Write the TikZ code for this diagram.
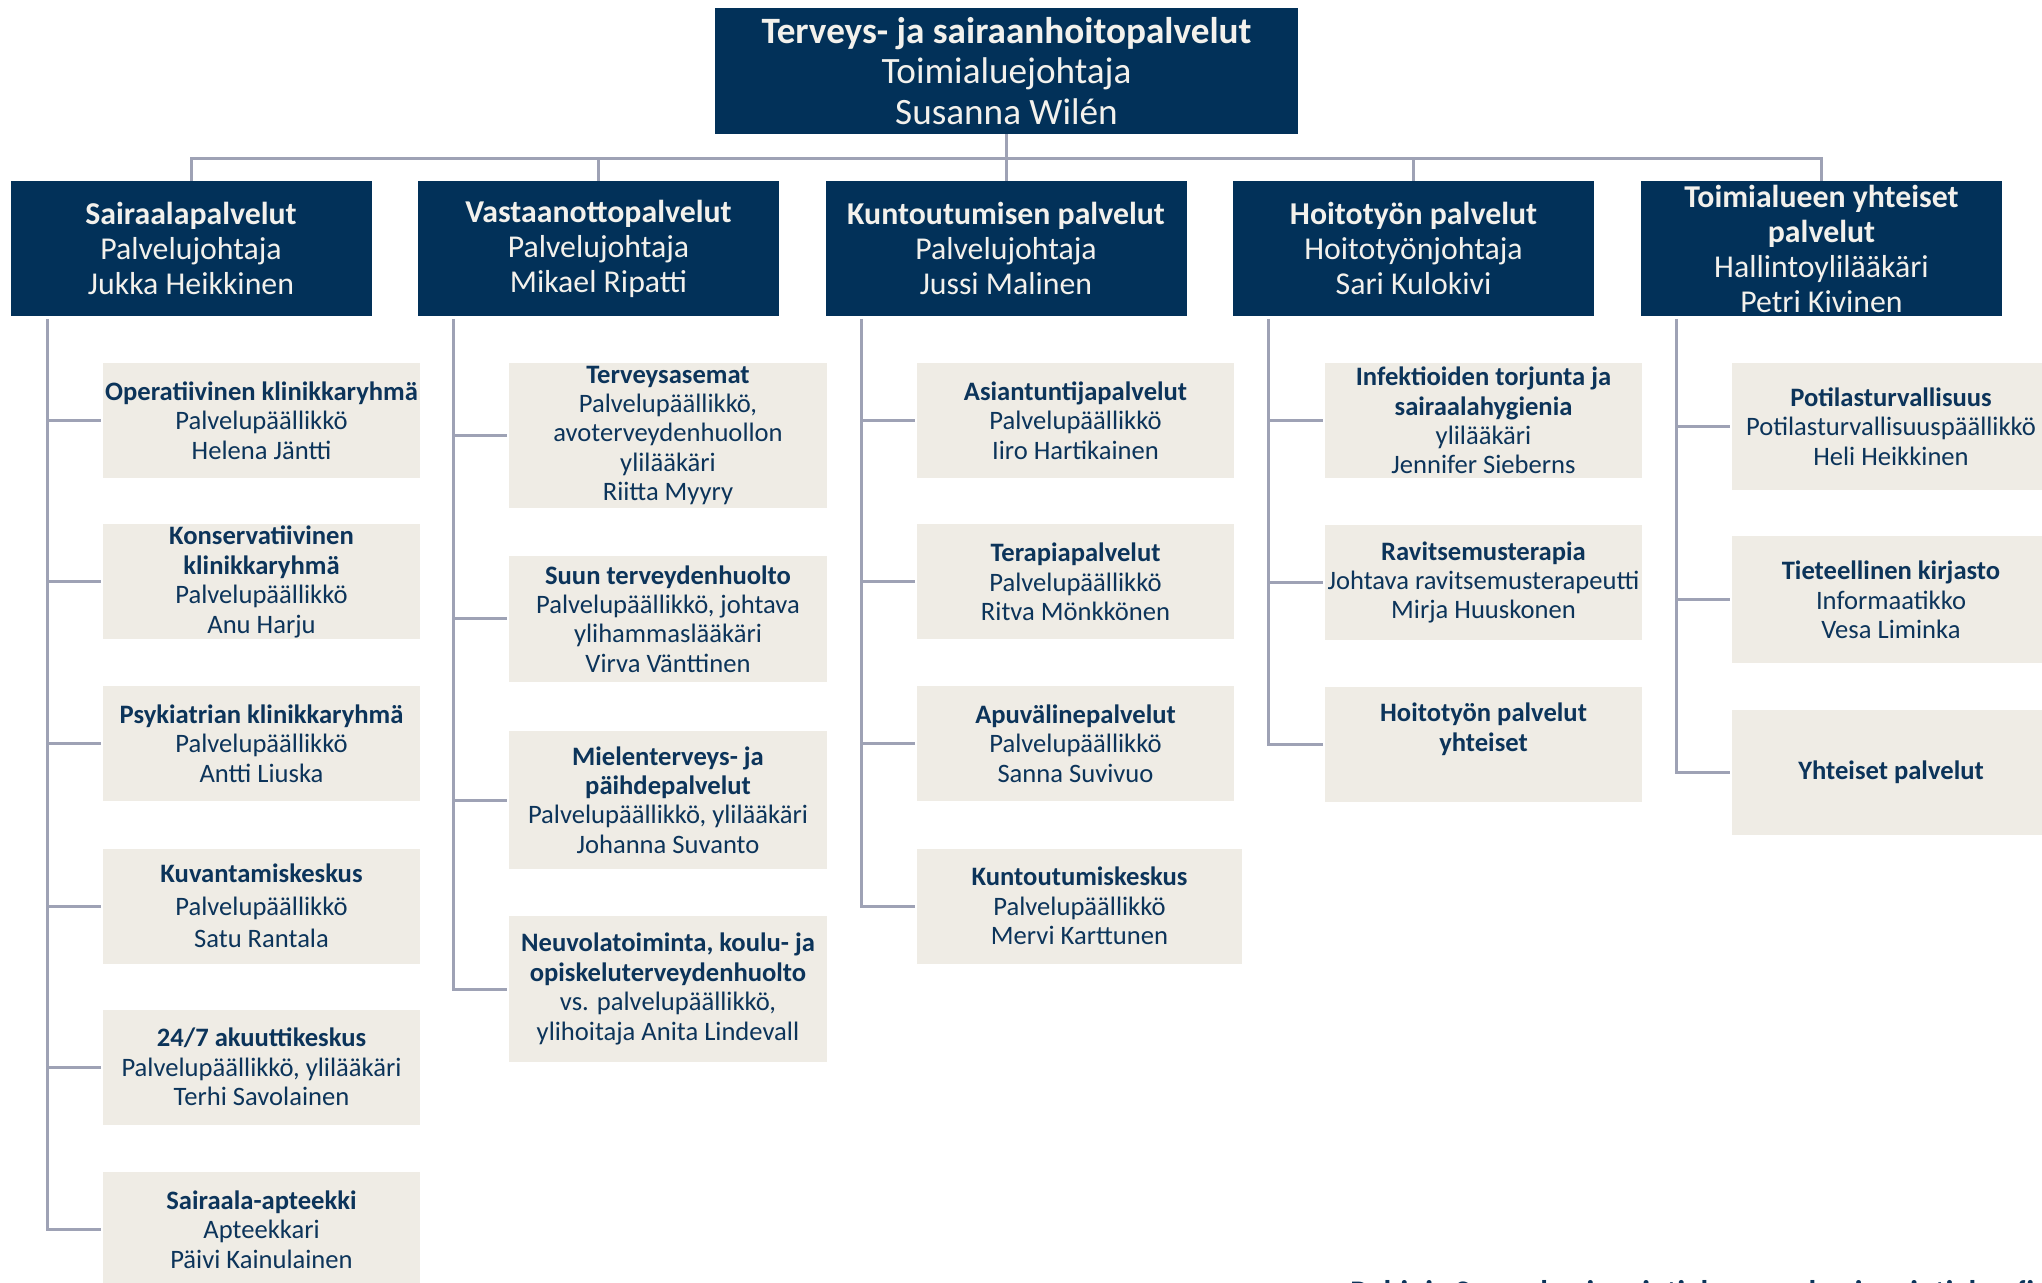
\documentclass[tikz,border=0pt]{standalone}
\usepackage{fontspec}
\setmainfont{Carlito}
\definecolor{navy}{RGB}{2,49,89}
\definecolor{navytext}{RGB}{12,52,90}
\definecolor{cream}{RGB}{243,241,236}
\definecolor{beige}{RGB}{239,236,229}
\definecolor{linec}{RGB}{158,162,181}
\begin{document}
\begin{tikzpicture}[x=0.5pt,y=-0.5pt,
  topbox/.style={fill=navy,text=cream,align=center,inner sep=0pt,
    font=\fontsize{18.6}{20.2}\selectfont,minimum width=291.5pt,minimum height=63pt},
  lvtwo/.style={fill=navy,text=cream,align=center,inner sep=0pt,
    font=\fontsize{15.9}{17.5}\selectfont,minimum width=180.5pt,minimum height=67.5pt},
  lvthree/.style={fill=beige,text=navytext,align=center,inner sep=0pt,
    font=\fontsize{13.3}{14.7}\selectfont,minimum width=158.5pt},
  conn/.style={draw=linec,line width=1.5pt},
  stub/.style={conn,shorten >=1pt}]
\useasboundingbox (0,0) rectangle (2042,1283);

% top
\node[topbox] (top) at (1006.5,71) {\textbf{Terveys- ja sairaanhoitopalvelut}\\Toimialuejohtaja\\Susanna Wilén};

% level 2
\node[lvtwo] (s1) at (191,248.5) {\textbf{Sairaalapalvelut}\\Palvelujohtaja\\Jukka Heikkinen};
\node[lvtwo] (s2) at (598.5,248.5) {\textbf{Vastaanottopalvelut}\\Palvelujohtaja\\Mikael Ripatti};
\node[lvtwo] (s3) at (1006,248.5) {\textbf{Kuntoutumisen palvelut}\\Palvelujohtaja\\Jussi Malinen};
\node[lvtwo] (s4) at (1413.5,248.5) {\textbf{Hoitotyön palvelut}\\Hoitotyönjohtaja\\Sari Kulokivi};
\node[lvtwo] (s5) at (1821.5,248.5) {\textbf{Toimialueen yhteiset}\\\textbf{palvelut}\\Hallintoylilääkäri\\Petri Kivinen};

\coordinate (bus) at (1006.5,159);
\draw[conn] (top.south) -- (bus);
\draw[conn] (s1.north) -- (s1.north |- bus) -- (s5.north |- bus) -- (s5.north);
\draw[conn] (s2.north) -- (s2.north |- bus);
\draw[conn] (s3.north) -- (s3.north |- bus);
\draw[conn] (s4.north) -- (s4.north |- bus);

% column 1
\node[lvthree,minimum height=57.5pt] (a1) at (261.5,420.5) {\textbf{Operatiivinen klinikkaryhmä}\\Palvelupäällikkö\\Helena Jäntti};
\node[lvthree,minimum height=57.5pt] (a2) at (261.5,582) {\textbf{Konservatiivinen}\\\textbf{klinikkaryhmä}\\Palvelupäällikkö\\Anu Harju};
\node[lvthree,minimum height=57.5pt] (a3) at (261.5,743.5) {\textbf{Psykiatrian klinikkaryhmä}\\Palvelupäällikkö\\Antti Liuska};
\node[lvthree,minimum height=57.5pt,font=\fontsize{13.3}{16.2}\selectfont] (a4) at (261.5,906) {\textbf{Kuvantamiskeskus}\\Palvelupäällikkö\\Satu Rantala};
\node[lvthree,minimum height=57.5pt] (a5) at (261.5,1067) {\textbf{24/7 akuuttikeskus}\\Palvelupäällikkö, ylilääkäri\\Terhi Savolainen};
\node[lvthree,minimum height=57.5pt] (a6) at (261.5,1229.5) {\textbf{Sairaala-apteekki}\\Apteekkari\\Päivi Kainulainen};
\coordinate (v1) at (47,319);
\draw[stub] (v1) |- (a6.west);
\foreach \n in {a1,a2,a3,a4,a5} \draw[stub] (v1 |- \n.west) -- (\n.west);

% column 2
\node[lvthree,minimum width=159pt,minimum height=72.5pt] (b1) at (668,435.5) {\textbf{Terveysasemat}\\Palvelupäällikkö,\\avoterveydenhuollon\\ylilääkäri\\Riitta Myyry};
\node[lvthree,minimum width=159pt,minimum height=63pt] (b2) at (668,619) {\textbf{Suun terveydenhuolto}\\Palvelupäällikkö, johtava\\ylihammaslääkäri\\Virva Vänttinen};
\node[lvthree,minimum width=159pt,minimum height=69pt] (b3) at (668,800) {\textbf{Mielenterveys- ja}\\\textbf{päihdepalvelut}\\Palvelupäällikkö, ylilääkäri\\Johanna Suvanto};
\node[lvthree,minimum width=159pt,minimum height=73pt] (b4) at (668,989) {\textbf{Neuvolatoiminta, koulu- ja}\\\textbf{opiskeluterveydenhuolto}\\vs. palvelupäällikkö,\\ylihoitaja Anita Lindevall};
\coordinate (v2) at (453,319);
\draw[stub] (v2) |- (b4.west);
\foreach \n in {b1,b2,b3} \draw[stub] (v2 |- \n.west) -- (\n.west);

% column 3
\node[lvthree,minimum height=57.5pt] (c1) at (1075.5,420.5) {\textbf{Asiantuntijapalvelut}\\Palvelupäällikkö\\Iiro Hartikainen};
\node[lvthree,minimum height=57.5pt] (c2) at (1075.5,582) {\textbf{Terapiapalvelut}\\Palvelupäällikkö\\Ritva Mönkkönen};
\node[lvthree,minimum height=57.5pt] (c3) at (1075.5,743.5) {\textbf{Apuvälinepalvelut}\\Palvelupäällikkö\\Sanna Suvivuo};
\node[lvthree,minimum width=162.5pt,minimum height=57.5pt] (c4) at (1079.5,906) {\textbf{Kuntoutumiskeskus}\\Palvelupäällikkö\\Mervi Karttunen};
\coordinate (v3) at (861,319);
\draw[stub] (v3) |- (c4.west);
\foreach \n in {c1,c2,c3} \draw[stub] (v3 |- \n.west) -- (\n.west);

% column 4
\node[lvthree,minimum height=57.5pt] (d1) at (1483.5,420.5) {\textbf{Infektioiden torjunta ja}\\\textbf{sairaalahygienia}\\ylilääkäri\\Jennifer Sieberns};
\node[lvthree,minimum height=57.5pt] (d2) at (1483.5,582.5) {\textbf{Ravitsemusterapia}\\Johtava ravitsemusterapeutti\\Mirja Huuskonen};
\node[lvthree,minimum height=57.5pt,font=\fontsize{13.3}{15.2}\selectfont] (d3) at (1483.5,744.5) {\textbf{Hoitotyön palvelut}\\\textbf{yhteiset}\\[2pt]~};
\coordinate (v4) at (1268,319);
\draw[stub] (v4) |- (d3.west);
\foreach \n in {d1,d2} \draw[stub] (v4 |- \n.west) -- (\n.west);

% column 5
\node[lvthree,minimum width=159pt,minimum height=63.5pt] (e1) at (1891,426.5) {\textbf{Potilasturvallisuus}\\Potilasturvallisuuspäällikkö\\Heli Heikkinen};
\node[lvthree,minimum width=159pt,minimum height=63.5pt] (e2) at (1891,600) {\textbf{Tieteellinen kirjasto}\\Informaatikko\\Vesa Liminka};
\node[lvthree,minimum width=159pt,minimum height=62.5pt] (e3) at (1891,772.5) {\textbf{Yhteiset palvelut}};
\coordinate (v5) at (1676,319);
\draw[stub] (v5) |- (e3.west);
\foreach \n in {e1,e2} \draw[stub] (v5 |- \n.west) -- (\n.west);

% footer text, cut off by the lower edge as in the original
\node[anchor=base west,inner sep=0pt,text=navytext,font=\bfseries\fontsize{15.7}{18}\selectfont] (foot) at (1350,1302) {Pohjois-Savon hyvinvointialue \quad pshyvinvointialue.fi};
\end{tikzpicture}
\end{document}
